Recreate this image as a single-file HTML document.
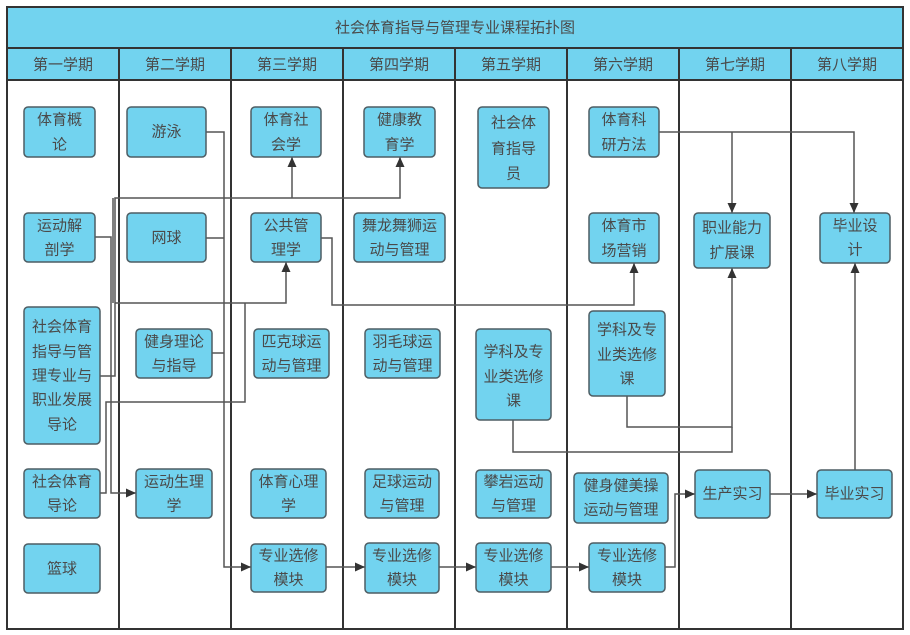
<!DOCTYPE html>
<html><head><meta charset="utf-8"><style>
html,body{margin:0;padding:0;background:#fff;}
svg{display:block;}
text{font-family:"Liberation Sans","Noto Sans CJK SC",sans-serif;font-size:15px;fill:#4a4a4a;}
</style></head><body>
<svg width="910" height="635" viewBox="0 0 910 635" xmlns="http://www.w3.org/2000/svg">
<defs>
<marker id="a" markerUnits="userSpaceOnUse" markerWidth="12" markerHeight="12" refX="10" refY="6" orient="auto">
<path d="M0,1.5 L10,6 L0,10.5 Z" fill="#333"/>
</marker>
</defs>
<!-- frame -->
<rect x="7" y="7" width="896" height="622" fill="#fff" stroke="#333" stroke-width="2"/>
<rect x="7" y="7" width="896" height="41" fill="#72d3ef" stroke="#333" stroke-width="2"/>
<rect x="7" y="48" width="896" height="32" fill="#72d3ef" stroke="#333" stroke-width="2"/>
<g stroke="#333" stroke-width="2">
<line x1="119" y1="48" x2="119" y2="629"/>
<line x1="231" y1="48" x2="231" y2="629"/>
<line x1="343" y1="48" x2="343" y2="629"/>
<line x1="455" y1="48" x2="455" y2="629"/>
<line x1="567" y1="48" x2="567" y2="629"/>
<line x1="679" y1="48" x2="679" y2="629"/>
<line x1="791" y1="48" x2="791" y2="629"/>
</g>
<text x="455" y="28" text-anchor="middle" dominant-baseline="central">社会体育指导与管理专业课程拓扑图</text>
<g text-anchor="middle" dominant-baseline="central">
<text x="63" y="65">第一学期</text>
<text x="175" y="65">第二学期</text>
<text x="287" y="65">第三学期</text>
<text x="399" y="65">第四学期</text>
<text x="511" y="65">第五学期</text>
<text x="623" y="65">第六学期</text>
<text x="735" y="65">第七学期</text>
<text x="847" y="65">第八学期</text>
</g>

<!-- connectors -->
<g fill="none" stroke="#555" stroke-width="1.5">
<polyline points="206,132 224,132 224,567 251,567" marker-end="url(#a)"/>
<polyline points="206,238 224,238"/>
<polyline points="212,353 224,353"/>
<polyline points="326,567 365,567" marker-end="url(#a)"/>
<polyline points="439,567 476,567" marker-end="url(#a)"/>
<polyline points="551,567 589,567" marker-end="url(#a)"/>
<polyline points="665,567 675,567 675,494 695,494" marker-end="url(#a)"/>
<polyline points="770,494 817,494" marker-end="url(#a)"/>
<polyline points="855,470 855,263" marker-end="url(#a)"/>
<polyline points="659,132 854,132 854,213" marker-end="url(#a)"/>
<polyline points="732,132 732,213" marker-end="url(#a)"/>
<polyline points="627,396 627,427 732,427 732,268" marker-end="url(#a)"/>
<polyline points="513,420 513,452 732,452 732,427"/>
<polyline points="321,238 332,238 332,305 634,305 634,263" marker-end="url(#a)"/>
<polyline points="95,237 111,237 111,493 136,493" marker-end="url(#a)"/>
<polyline points="100,493 106,493 106,402 245,402 245,303"/>
<polyline points="100,376 115,376 115,198 400,198 400,157" marker-end="url(#a)"/>
<polyline points="292,198 292,157" marker-end="url(#a)"/>
<polyline points="115,303 286,303 286,262" marker-end="url(#a)"/>
<polyline points="113,198 113,303"/>
</g>

<!-- boxes -->
<g fill="#72d3ef" stroke="#4d5d63" stroke-width="1.5">
<rect x="24" y="107" width="71" height="50" rx="4"/>
<rect x="24" y="213" width="71" height="49" rx="4"/>
<rect x="24" y="307" width="76" height="137" rx="4"/>
<rect x="24" y="469" width="76" height="49" rx="4"/>
<rect x="24" y="544" width="76" height="49" rx="4"/>
<rect x="127" y="107" width="79" height="50" rx="4"/>
<rect x="127" y="213" width="79" height="49" rx="4"/>
<rect x="136" y="329" width="76" height="49" rx="4"/>
<rect x="136" y="469" width="76" height="49" rx="4"/>
<rect x="251" y="107" width="70" height="50" rx="4"/>
<rect x="251" y="213" width="70" height="49" rx="4"/>
<rect x="254" y="329" width="75" height="49" rx="4"/>
<rect x="251" y="469" width="75" height="49" rx="4"/>
<rect x="251" y="544" width="75" height="48" rx="4"/>
<rect x="364" y="107" width="71" height="50" rx="4"/>
<rect x="354" y="213" width="91" height="49" rx="4"/>
<rect x="365" y="329" width="75" height="49" rx="4"/>
<rect x="365" y="469" width="74" height="49" rx="4"/>
<rect x="365" y="543" width="74" height="50" rx="4"/>
<rect x="478" y="107" width="71" height="81" rx="4"/>
<rect x="476" y="329" width="75" height="91" rx="4"/>
<rect x="476" y="470" width="75" height="48" rx="4"/>
<rect x="476" y="543" width="75" height="49" rx="4"/>
<rect x="589" y="107" width="70" height="50" rx="4"/>
<rect x="589" y="213" width="70" height="50" rx="4"/>
<rect x="589" y="311" width="76" height="85" rx="4"/>
<rect x="574" y="473" width="94" height="50" rx="4"/>
<rect x="589" y="543" width="76" height="49" rx="4"/>
<rect x="694" y="213" width="76" height="55" rx="4"/>
<rect x="695" y="470" width="75" height="48" rx="4"/>
<rect x="820" y="213" width="70" height="50" rx="4"/>
<rect x="817" y="470" width="75" height="48" rx="4"/>
</g>

<g text-anchor="middle" dominant-baseline="central">
<text x="59.5" y="120">体育概</text><text x="59.5" y="145">论</text>
<text x="59.5" y="226">运动解</text><text x="59.5" y="250">剖学</text>
<text x="62" y="327">社会体育</text><text x="62" y="352">指导与管</text><text x="62" y="376">理专业与</text><text x="62" y="400">职业发展</text><text x="62" y="425">导论</text>
<text x="62" y="482">社会体育</text><text x="62" y="506">导论</text>
<text x="62" y="569">篮球</text>
<text x="166.5" y="132">游泳</text>
<text x="166.5" y="238">网球</text>
<text x="174" y="342">健身理论</text><text x="174" y="366">与指导</text>
<text x="174" y="482">运动生理</text><text x="174" y="506">学</text>
<text x="286" y="120">体育社</text><text x="286" y="145">会学</text>
<text x="286" y="226">公共管</text><text x="286" y="250">理学</text>
<text x="291.5" y="342">匹克球运</text><text x="291.5" y="366">动与管理</text>
<text x="288.5" y="482">体育心理</text><text x="288.5" y="506">学</text>
<text x="288.5" y="556">专业选修</text><text x="288.5" y="580">模块</text>
<text x="399.5" y="120">健康教</text><text x="399.5" y="145">育学</text>
<text x="399.5" y="226">舞龙舞狮运</text><text x="399.5" y="250">动与管理</text>
<text x="402.5" y="342">羽毛球运</text><text x="402.5" y="366">动与管理</text>
<text x="402" y="482">足球运动</text><text x="402" y="506">与管理</text>
<text x="402" y="556">专业选修</text><text x="402" y="580">模块</text>
<text x="513.5" y="123">社会体</text><text x="513.5" y="149">育指导</text><text x="513.5" y="174">员</text>
<text x="513.5" y="352">学科及专</text><text x="513.5" y="377">业类选修</text><text x="513.5" y="401">课</text>
<text x="513.5" y="482">攀岩运动</text><text x="513.5" y="506">与管理</text>
<text x="513.5" y="556">专业选修</text><text x="513.5" y="580">模块</text>
<text x="624" y="120">体育科</text><text x="624" y="145">研方法</text>
<text x="624" y="226">体育市</text><text x="624" y="251">场营销</text>
<text x="627" y="330">学科及专</text><text x="627" y="355">业类选修</text><text x="627" y="379">课</text>
<text x="621" y="486">健身健美操</text><text x="621" y="510">运动与管理</text>
<text x="627" y="556">专业选修</text><text x="627" y="580">模块</text>
<text x="732" y="228">职业能力</text><text x="732" y="253">扩展课</text>
<text x="732.5" y="494">生产实习</text>
<text x="855" y="226">毕业设</text><text x="855" y="250">计</text>
<text x="854.5" y="494">毕业实习</text>
</g>
</svg>
</body></html>
